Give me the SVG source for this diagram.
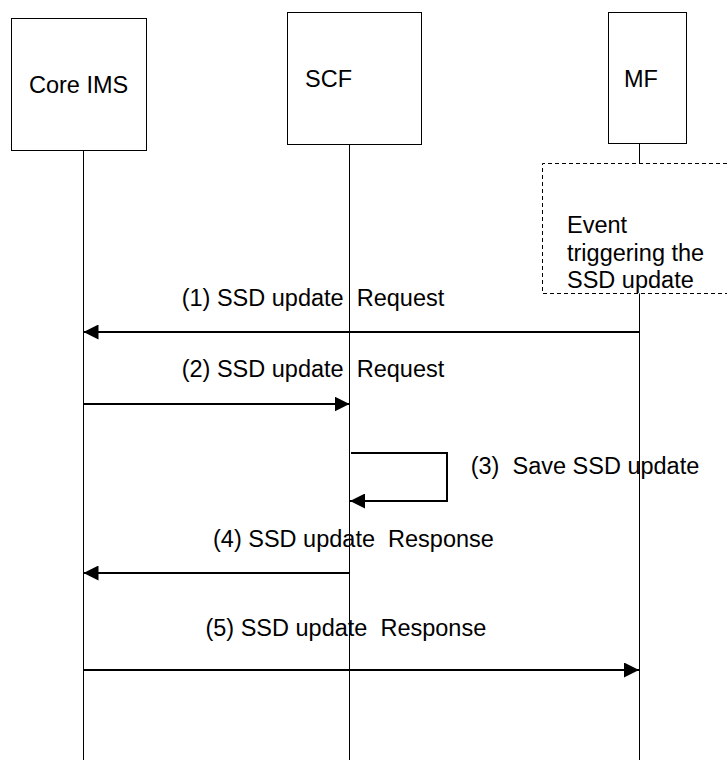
<svg xmlns="http://www.w3.org/2000/svg" width="727" height="760" viewBox="0 0 727 760">
<style>
  .box { fill: #fff; stroke: #000; stroke-width: 1; }
  .life { stroke: #000; stroke-width: 1; fill: none; }
  .msg { stroke: #000; stroke-width: 2; fill: none; marker-end: url(#arr); }
  .dash { stroke: #000; stroke-width: 1; fill: none; stroke-dasharray: 4 3; }
  text { font-family: "Liberation Sans", Arial, sans-serif; font-size: 23.5px; fill: #000; white-space: pre; }
</style>
<defs>
  <marker id="arr" markerUnits="userSpaceOnUse" markerWidth="15" markerHeight="15" refX="15" refY="7.5" orient="auto">
    <path d="M0,0 L15,7.5 L0,15 Z" fill="#000"/>
  </marker>
</defs>
<rect width="727" height="760" fill="#fff"/>
<g id="core-ims">
  <rect class="box" x="11.5" y="18.5" width="135" height="132"/>
  <text x="29" y="93">Core IMS</text>
  <line class="life" x1="83.5" y1="150.5" x2="83.5" y2="760"/>
</g>
<g id="scf">
  <rect class="box" x="287.5" y="12.5" width="134" height="132"/>
  <text x="305" y="87">SCF</text>
  <line class="life" x1="349.5" y1="144.5" x2="349.5" y2="760"/>
</g>
<g id="mf">
  <rect class="box" x="608.5" y="12.5" width="78" height="131"/>
  <text x="624" y="87">MF</text>
  <line class="life" x1="639.5" y1="143.5" x2="639.5" y2="163.5"/>
  <line class="life" x1="639.5" y1="293.5" x2="639.5" y2="760"/>
</g>
<g id="event">
  <path class="dash" d="M727,163.5 H542.5 V293.5 H727"/>
  <text x="567" y="233">Event</text>
  <text x="567" y="260.5">triggering the</text>
  <text x="567" y="288">SSD update</text>
</g>
<g id="connectors">
  <line class="msg" x1="639" y1="332" x2="83.5" y2="332"/>
  <text x="181.7" y="306" xml:space="preserve">(1) SSD update  Request</text>
  <line class="msg" x1="83.5" y1="404" x2="349.5" y2="404"/>
  <text x="181.7" y="377" xml:space="preserve">(2) SSD update  Request</text>
  <polyline class="msg" points="351,453 447,453 447,501 350,501"/>
  <text x="470.7" y="474" xml:space="preserve">(3)  Save SSD update</text>
  <line class="msg" x1="349.5" y1="573" x2="83.5" y2="573"/>
  <text x="213" y="547" xml:space="preserve">(4) SSD update  Response</text>
  <line class="msg" x1="83.5" y1="670" x2="639" y2="670"/>
  <text x="205.4" y="636" xml:space="preserve">(5) SSD update  Response</text>
</g>
</svg>
